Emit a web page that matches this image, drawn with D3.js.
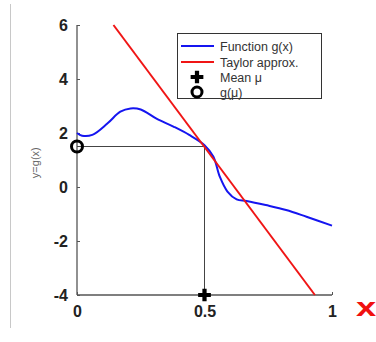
<!DOCTYPE html>
<html lang="en">
<head>
<meta charset="UTF-8" />
<script src="https://d3js.org/d3.v7.min.js"></script>
<style>
  body { margin: 0; background: #fff; }
  svg { display: block; font-family: "Liberation Sans", Arial, sans-serif; }
</style>
</head>
<body>
<svg id="chart" width="376" height="342"></svg>
<script>
// data
const curveX = [0, 0.02, 0.06, 0.12, 0.17, 0.21, 0.25, 0.31, 0.38, 0.44, 0.5, 0.535, 0.56, 0.59, 0.626, 0.665, 0.74, 0.82, 0.9, 1.0];
const curveY = [2.0, 1.9, 1.93, 2.36, 2.79, 2.91, 2.87, 2.54, 2.23, 1.93, 1.55, 1.12, 0.38, -0.17, -0.46, -0.52, -0.67, -0.85, -1.1, -1.43];
const taylorX = [0.143, 0.933];
const taylorY = [6, -4];
const mu = 0.5;
const gMu = 1.5;
const xTicks = [0, 0.5, 1];
const yTicks = [-4, -2, 0, 2, 4, 6];
const legendLabels = ['Function g(x)', 'Taylor approx.', 'Mean \u03bc', 'g(\u03bc)'];

const svg = d3.select('#chart');
const margin = { top: 25, left: 77, right: 44, bottom: 47 };
const width = 376, height = 342;
const innerW = width - margin.left - margin.right;
const innerH = height - margin.top - margin.bottom;

const x = d3.scaleLinear().domain([0, 1]).range([0, innerW]);
const y = d3.scaleLinear().domain([-4, 6]).range([innerH, 0]);

// thin rule at the left edge
svg.append('line')
  .attr('x1', 10.5).attr('x2', 10.5)
  .attr('y1', 4).attr('y2', 328)
  .attr('stroke', '#c8c8c8').attr('stroke-width', 1);

const g = svg.append('g').attr('transform', `translate(${margin.left},${margin.top})`);

const yAxis = d3.axisLeft(y).tickValues(yTicks).tickSize(-3).tickPadding(9).tickFormat(d => String(d));
const xAxis = d3.axisBottom(x).tickValues(xTicks).tickSize(-3).tickPadding(11).tickFormat(d => String(d));

const yAxisG = g.append('g').call(yAxis);
const xAxisG = g.append('g').attr('transform', `translate(0,${innerH})`).call(xAxis);

[yAxisG, xAxisG].forEach(a => {
  a.select('.domain').attr('stroke', '#555').attr('stroke-width', 1.3);
  a.selectAll('.tick line').attr('stroke', '#555');
  a.selectAll('.tick text')
    .attr('fill', '#222')
    .style('font-size', '16px')
    .style('font-weight', 'bold');
});
// domain paths without outer ticks
yAxisG.select('.domain').attr('d', `M0,0V${innerH}`);
xAxisG.select('.domain').attr('d', `M0,0H${innerW}`);

// y axis label
g.append('text')
  .attr('transform', `translate(-38,${y(0.9)}) rotate(-90)`)
  .attr('text-anchor', 'middle')
  .attr('fill', '#666')
  .style('font-size', '11px')
  .text('y=g(x)');

// x label in red
svg.append('text')
  .attr('transform', 'translate(366,316) scale(1.4,1)')
  .attr('text-anchor', 'middle')
  .attr('fill', '#f01010')
  .style('font-size', '26px')
  .style('font-weight', 'bold')
  .text('x');

// guide lines from mean to g(mean)
g.append('path')
  .attr('d', `M${x(0)},${y(gMu)}H${x(mu)}V${y(-4)}`)
  .attr('fill', 'none')
  .attr('stroke', '#444')
  .attr('stroke-width', 1);

// function curve
const curveData = curveX.map((v, i) => ({ x: v, y: curveY[i] }));
g.append('path')
  .datum(curveData)
  .attr('d', d3.line().x(d => x(d.x)).y(d => y(d.y)).curve(d3.curveCatmullRom))
  .attr('fill', 'none')
  .attr('stroke', '#1515f0')
  .attr('stroke-width', 2);

// taylor line
const taylorData = taylorX.map((v, i) => ({ x: v, y: taylorY[i] }));
g.append('path')
  .datum(taylorData)
  .attr('d', d3.line().x(d => x(d.x)).y(d => y(d.y)))
  .attr('fill', 'none')
  .attr('stroke', '#f01515')
  .attr('stroke-width', 2);

// markers
const plus = d3.symbol().type(d3.symbolCross).size(90);
g.append('path')
  .attr('d', plus())
  .attr('transform', `translate(${x(mu)},${y(-4)})`)
  .attr('fill', '#000');
g.append('circle')
  .attr('cx', x(0)).attr('cy', y(gMu)).attr('r', 5.5)
  .attr('fill', 'none').attr('stroke', '#000').attr('stroke-width', 3);

// legend
const lg = svg.append('g').attr('transform', 'translate(177,33)');
lg.append('rect')
  .attr('x', 0.5).attr('y', 0.5).attr('width', 144).attr('height', 65)
  .attr('fill', '#fff').attr('stroke', '#333').attr('stroke-width', 1);
const rowY = [13, 29, 44, 59];
lg.selectAll('text.leg').data(legendLabels).enter().append('text')
  .attr('class', 'leg')
  .attr('x', 43).attr('y', (d, i) => rowY[i] + 4.5)
  .attr('fill', '#333')
  .style('font-size', '12.5px')
  .text(d => d);
lg.append('line').attr('x1', 4).attr('x2', 37).attr('y1', rowY[0]).attr('y2', rowY[0]).attr('stroke', '#1515f0').attr('stroke-width', 2);
lg.append('line').attr('x1', 4).attr('x2', 37).attr('y1', rowY[1]).attr('y2', rowY[1]).attr('stroke', '#f01515').attr('stroke-width', 2);
lg.append('path').attr('d', plus()).attr('transform', `translate(20,${rowY[2]})`).attr('fill', '#000');
lg.append('circle').attr('cx', 20).attr('cy', rowY[3]).attr('r', 5).attr('fill', 'none').attr('stroke', '#000').attr('stroke-width', 3);
</script>
</body>
</html>
